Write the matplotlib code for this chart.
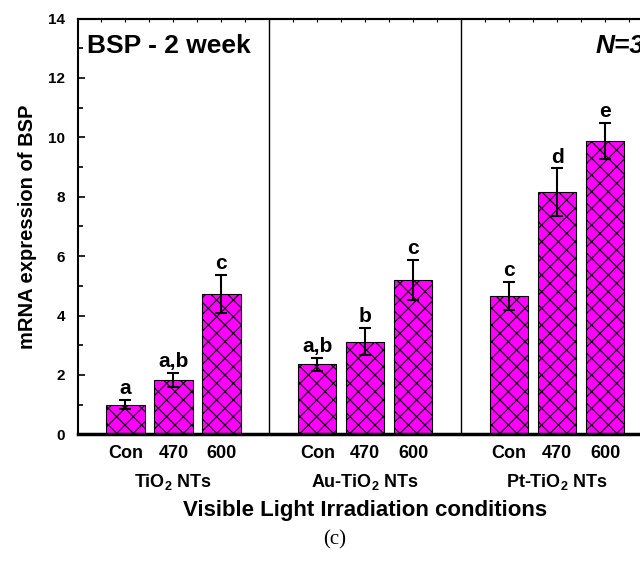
import matplotlib
matplotlib.use("Agg")
import matplotlib.pyplot as plt
import numpy as np

plt.rcParams['font.family'] = ['Liberation Sans', 'DejaVu Sans']
plt.rcParams['font.weight'] = 'bold'
plt.rcParams['mathtext.fontset'] = 'custom'
plt.rcParams['mathtext.rm'] = 'Liberation Sans:bold'
plt.rcParams['mathtext.bf'] = 'Liberation Sans:bold'
plt.rcParams['hatch.linewidth'] = 0.8

# data
groups = ["TiO$_\\mathbf{2}$ NTs", "Au-TiO$_\\mathbf{2}$ NTs", "Pt-TiO$_\\mathbf{2}$ NTs"]
conditions = ["Con", "470", "600"]
values = [1.0, 1.84, 4.74, 2.36, 3.12, 5.2, 4.66, 8.15, 9.88]
errors = [0.15, 0.24, 0.64, 0.22, 0.45, 0.67, 0.48, 0.8, 0.6]
letters = ["a", "a,b", "c", "a,b", "b", "c", "c", "d", "e"]

# bar positions: 3 per group, one empty slot between groups
x = np.array([g * 4 + c + 1 for g in range(3) for c in range(3)])

fig = plt.figure(figsize=(6.4, 5.63), dpi=100)
ax = fig.add_axes([0.1211, 0.2286, 0.8992, 0.7385])

ax.bar(x, values, width=0.8, color='#FF00FF', edgecolor='black',
       linewidth=0.8, hatch='xx', zorder=2)
ax.errorbar(x, values, yerr=errors, fmt='none', ecolor='black',
            elinewidth=1.5, capsize=4, capthick=1.5, zorder=3)

for xi, v, e, t in zip(x, values, errors, letters):
    ax.text(xi, v + e + 0.2, t, ha='center', va='baseline',
            fontsize=15, fontweight='bold')

# group separators
for s in [4, 8]:
    ax.axvline(s, color='black', lw=1, zorder=1)

ax.set_xlim(0, 12)
ax.set_ylim(0, 14)

ax.set_xticks(x)
ax.set_xticklabels(conditions * 3, fontsize=13, fontweight='bold')
ax.tick_params(axis='x', length=0, pad=8)

ax.set_yticks(np.arange(0, 15, 2))
ax.set_yticks(np.arange(1, 14, 2), minor=True)
ax.tick_params(axis='y', which='major', direction='in', length=5,
               width=1.2, labelsize=11, pad=9)
ax.tick_params(axis='y', which='minor', direction='in', length=3.5, width=1.2)
for lab in ax.get_yticklabels():
    lab.set_fontweight('bold')

top = ax.secondary_xaxis('top')
top.set_xticks(np.arange(0, 12.01, 0.5))
top.tick_params(direction='in', length=2.5, width=0.8, labeltop=False)
top.spines['top'].set_linewidth(1.5)

ax.spines['left'].set_linewidth(1.5)
ax.spines['top'].set_linewidth(1.5)
ax.spines['bottom'].set_linewidth(2.5)
ax.spines['right'].set_linewidth(1.5)

trans = ax.get_xaxis_transform()
for g, name in enumerate(groups):
    ax.text(g * 4 + 2, -0.115, name, transform=trans, ha='center',
            va='center', fontsize=13, fontweight='bold')

ax.set_ylabel("mRNA expression of BSP", fontsize=14.5, fontweight='bold',
              labelpad=8)
ax.set_xlabel("Visible Light Irradiation conditions", fontsize=16,
              fontweight='bold', labelpad=27)

ax.text(0.017, 0.935, "BSP - 2 week", transform=ax.transAxes, ha='left',
        va='center', fontsize=19, fontweight='bold')
ax.text(0.985, 0.935, "N=3", transform=ax.transAxes, ha='right',
        va='center', fontsize=19, fontweight='bold', fontstyle='italic')

fig.text(0.523, 1 - 540 / 563, "(c)", ha='center', va='center', fontsize=15,
         family='Liberation Serif', fontweight='normal')

fig.savefig("out.png", dpi=100)
